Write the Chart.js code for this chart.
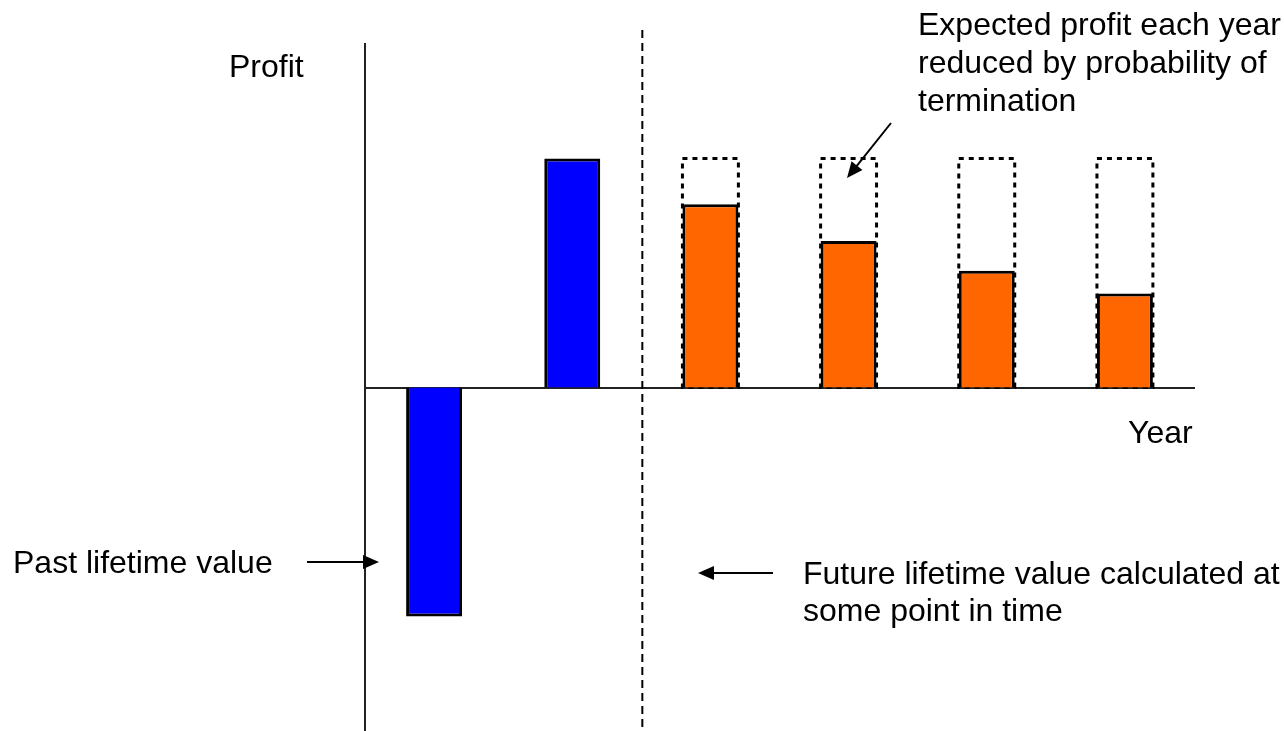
<!DOCTYPE html>
<html>
<head>
<meta charset="utf-8">
<script src="https://cdn.jsdelivr.net/npm/chart.js@4.4.1/dist/chart.umd.min.js"></script>
<style>
html,body{margin:0;padding:0;background:#fff;}
#wrap{width:1284px;height:731px;position:relative;}
</style>
</head>
<body>
<div id="wrap"><canvas id="lifetimeChart" width="1284" height="731"></canvas></div>
<script>
// data
const years = ["Year 1", "Year 2", "Year 3", "Year 4", "Year 5", "Year 6"];
const profit = [-100, 100, 80, 64, 51, 41];
const fullProfit = [null, null, 100, 100, 100, 100];
const barColors = ["#0000ff", "#0000ff", "#ff6600", "#ff6600", "#ff6600", "#ff6600"];
const yMin = -150;
const yMax = 150;

const FONT = "32px 'Liberation Sans', Arial, sans-serif";

const annotations = {
    id: "annotations",
    beforeDatasetsDraw(chart) {
        const ctx = chart.ctx;
        const meta = chart.getDatasetMeta(1);
        ctx.save();
        ctx.strokeStyle = "#000";
        ctx.lineWidth = 3;
        ctx.setLineDash([5, 5]);
        meta.data.forEach(function(bar, i) {
            if (fullProfit[i] === null) return;
            const w = bar.width;
            ctx.strokeRect(bar.x - w / 2, bar.y, w, bar.base - bar.y);
        });
        ctx.restore();
    },
    afterDatasetsDraw(chart) {
        const ctx = chart.ctx;
        const x = chart.scales.x;
        const area = chart.chartArea;

        // dashed divider between past and future
        const divX = x.getPixelForValue(1.5) + 1;
        ctx.save();
        ctx.strokeStyle = "#000";
        ctx.lineWidth = 2;
        ctx.setLineDash([8, 5]);
        ctx.beginPath();
        ctx.moveTo(divX, 30);
        ctx.lineTo(divX, chart.height);
        ctx.stroke();
        ctx.restore();

        // arrows
        function arrow(x1, y1, x2, y2) {
            const ang = Math.atan2(y2 - y1, x2 - x1);
            const len = 16, half = 7;
            ctx.save();
            ctx.strokeStyle = "#000";
            ctx.fillStyle = "#000";
            ctx.lineWidth = 2;
            ctx.beginPath();
            ctx.moveTo(x1, y1);
            ctx.lineTo(x2 - Math.cos(ang) * len * 0.8, y2 - Math.sin(ang) * len * 0.8);
            ctx.stroke();
            ctx.beginPath();
            ctx.moveTo(x2, y2);
            ctx.lineTo(x2 - Math.cos(ang) * len - Math.sin(ang) * half, y2 - Math.sin(ang) * len + Math.cos(ang) * half);
            ctx.lineTo(x2 - Math.cos(ang) * len + Math.sin(ang) * half, y2 - Math.sin(ang) * len - Math.cos(ang) * half);
            ctx.closePath();
            ctx.fill();
            ctx.restore();
        }
        arrow(307, 562, area.left + 14, 562);
        arrow(773, 573, 698, 573);
        arrow(891, 123, 847, 178);

        // texts
        ctx.save();
        ctx.fillStyle = "#000";
        ctx.font = FONT;
        ctx.textBaseline = "alphabetic";
        ctx.textAlign = "left";
        ctx.fillText("Profit", 229, 77);
        ctx.fillText("Year", 1128, 443);
        ctx.fillText("Expected profit each year", 918, 35);
        ctx.fillText("reduced by probability of", 918, 73);
        ctx.fillText("termination", 918, 111);
        ctx.fillText("Past lifetime value", 13, 573);
        ctx.fillText("Future lifetime value calculated at", 803, 584);
        ctx.fillText("some point in time", 803, 621);
        ctx.restore();
    }
};

new Chart(
    document.getElementById("lifetimeChart"),
    {
        type: "bar",
        data: {
            labels: years,
            datasets: [
                {
                    label: "Profit",
                    data: profit,
                    backgroundColor: barColors,
                    borderColor: "#000",
                    borderWidth: 3,
                    grouped: false,
                    order: 1
                },
                {
                    label: "Profit before termination",
                    data: fullProfit,
                    backgroundColor: "rgba(0,0,0,0)",
                    borderWidth: 0,
                    grouped: false,
                    order: 2
                }
            ]
        },
        options: {
            responsive: false,
            animation: false,
            events: [],
            categoryPercentage: 1,
            barPercentage: 0.405,
            layout: {
                padding: { left: 357, right: 90, top: 44, bottom: 0 }
            },
            plugins: {
                legend: { display: false },
                tooltip: { enabled: false },
                title: { display: false }
            },
            scales: {
                x: {
                    position: { y: 0 },
                    grid: { display: false },
                    ticks: { display: false },
                    border: { display: true, color: "#222", width: 2 }
                },
                y: {
                    min: yMin,
                    max: yMax,
                    grid: { display: false },
                    ticks: { display: false },
                    border: { display: true, color: "#222", width: 2 }
                }
            }
        },
        plugins: [annotations]
    }
);
</script>
</body>
</html>
